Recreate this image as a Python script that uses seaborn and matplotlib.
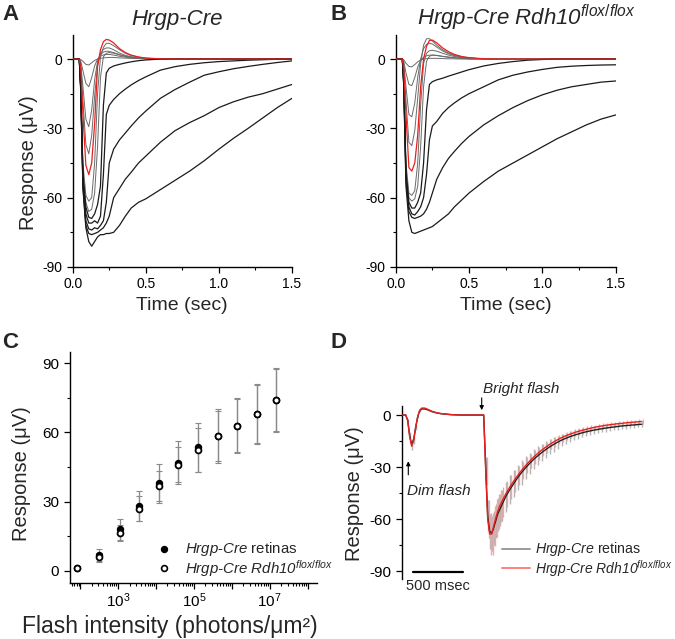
import numpy as np
import pandas as pd
import matplotlib
matplotlib.use("Agg")
import matplotlib.pyplot as plt
import seaborn as sns
from matplotlib.lines import Line2D
from matplotlib.ticker import FixedLocator, NullFormatter

# ---------------- data ----------------
# panels A/B: photoresponse traces (time in sec, response in uV)
t_trace = [0, 0.045, 0.055, 0.07, 0.09, 0.11, 0.13, 0.15, 0.17, 0.19, 0.21, 0.23, 0.25,
           0.28, 0.32, 0.36, 0.40, 0.45, 0.50, 0.60, 0.70, 0.80, 0.90, 1.00, 1.10,
           1.20, 1.30, 1.40, 1.50]

cre_dim = [
    [0, 0, -0.2, -1.0, -2.3, -2.6, -1.6, -0.6, 0, 0.3, 0.5, 0.6, 0.7, 0.7, 0.5, 0.4, 0.3, 0.2, 0.1, 0, 0, 0, 0, 0, 0, 0, 0, 0, 0],
    [0, 0, -1, -5, -10.5, -12, -8, -3, 0, 1.2, 1.8, 2.0, 2.0, 1.7, 1.2, 0.8, 0.5, 0.3, 0.1, 0, 0, 0, 0, 0, 0, 0, 0, 0, 0],
    [0, 0, -2, -12, -26, -29.3, -22, -9, -1, 2, 3, 3.4, 3.3, 2.8, 1.9, 1.2, 0.7, 0.4, 0.2, 0, 0, 0, 0, 0, 0, 0, 0, 0, 0],
    [0, 0, -3, -18, -37, -41, -33, -16, -3, 2.5, 4.2, 4.8, 4.8, 4.0, 2.6, 1.6, 1.0, 0.5, 0.3, 0, 0, 0, 0, 0, 0, 0, 0, 0, 0],
]
cre_red = [0, 0, -4, -24, -46, -50, -45, -28, -3, 4, 7.5, 8.5, 8.2, 7, 4.5, 2.8, 1.7, 0.9, 0.4, 0.1, 0, 0, 0, 0, 0, 0, 0, 0, 0]
cre_sat_grey = [
    [0, 0, -10, -45, -59, -61.5, -60, -45, -15, 1, 5, 6.8, 6.8, 5.8, 4, 2.5, 1.5, 0.8, 0.4, 0.1, 0, 0, 0, 0, 0, 0, 0, 0, 0],
    [0, 0, -11, -48, -62, -66, -65, -58, -38, -8, 1, 2.5, 2.8, 2.5, 1.8, 1.2, 0.8, 0.4, 0.2, 0, 0, 0, 0, 0, 0, 0, 0, 0, 0],
]
cre_sat_black = [
    [0, 0, -12, -50, -64, -68.5, -69, -67, -63, -55, -20, -6, -4, -3, -2.3, -1.7, -1.2, -0.7, -0.4, 0, 0, 0, 0, 0, 0, 0, 0, 0, 0],
    [0, 0, -12, -52, -67, -71, -71, -70, -71, -68, -50, -24, -20, -17.5, -15, -13, -11.2, -9.3, -7.7, -4.8, -3.3, -2.3, -1.6, -1.1, -0.8, -0.5, -0.3, -0.1, 0],
    [0, 0, -13, -54, -70, -73.5, -74, -73, -73.5, -72, -70, -62, -45, -39, -35, -32, -29, -25.5, -22.5, -17, -13.2, -10, -7, -5.5, -4.2, -3.2, -2.3, -1.5, -0.8],
    [0, 0, -13, -55, -72, -75.5, -76, -75.5, -75, -74, -73, -71, -68, -60, -56, -52, -49, -45, -42, -36, -31, -27.5, -24.5, -21, -18.5, -16.5, -15, -13, -11],
    [0, 0, -14, -56, -73, -79, -81, -79, -77, -76, -76, -75.5, -75.5, -75, -72, -68, -64.5, -62, -60.5, -56.5, -52.5, -48.5, -44, -39, -34.3, -30, -25.5, -21, -17],
]

rdh_dim = [
    [0, 0, -0.3, -1.8, -3.2, -3.4, -2.4, -1.2, -0.4, 0, 0.2, 0.3, 0.3, 0.3, 0.2, 0.1, 0.1, 0, 0, 0, 0, 0, 0, 0, 0, 0, 0, 0, 0],
    [0, 0, -1, -6, -11, -11.5, -8, -3.5, -0.5, 0.8, 1.4, 1.7, 1.7, 1.5, 1.1, 0.7, 0.5, 0.3, 0.1, 0, 0, 0, 0, 0, 0, 0, 0, 0, 0],
    [0, 0, -2, -12, -24, -25, -19, -8, 0, 4.5, 6.3, 6.8, 6.5, 5.2, 3.5, 2.3, 1.5, 0.8, 0.4, 0.1, 0, 0, 0, 0, 0, 0, 0, 0, 0],
    [0, 0, -3, -18, -36, -37.5, -31, -17, -2, 6, 8.8, 8.8, 7.8, 6, 4, 2.6, 1.7, 0.9, 0.5, 0.1, 0, 0, 0, 0, 0, 0, 0, 0, 0],
]
rdh_red = [0, 0, -4, -24, -47, -48.5, -45, -33, -12, 0, 5.5, 8, 8.2, 7, 4.8, 3.2, 2, 1.1, 0.6, 0.1, 0, 0, 0, 0, 0, 0, 0, 0, 0]
rdh_sat_grey = [
    [0, 0, -9, -45, -58, -59, -57, -45, -20, -2, 2.5, 3.6, 3.8, 3.4, 2.5, 1.7, 1.1, 0.6, 0.3, 0.1, 0, 0, 0, 0, 0, 0, 0, 0, 0],
    [0, 0, -9, -47, -60, -61.5, -60.5, -55, -38, -12, -1, 1.2, 1.7, 1.6, 1.2, 0.9, 0.6, 0.3, 0.1, 0, 0, 0, 0, 0, 0, 0, 0, 0, 0],
]
rdh_sat_black = [
    [0, 0, -10, -49, -62, -64.5, -64.5, -62, -58, -45, -22, -11, -9.8, -9, -8.3, -7.4, -6.6, -5.6, -4.6, -3, -1.9, -1.1, -0.5, -0.2, 0, 0, 0, 0, 0],
    [0, 0, -10, -51, -64, -67, -67.5, -66, -64, -60, -50, -35, -29, -27, -23.5, -21, -19, -16.8, -15, -12, -9, -7, -5.6, -4.5, -3.6, -3.1, -2.8, -2.6, -2.5],
    [0, 0, -11, -52, -66, -68.5, -69, -68.5, -68, -67, -65, -62, -58, -52, -47, -43, -40, -36.5, -33.5, -28.5, -24.5, -21, -18, -15.5, -13.5, -12, -11, -10, -9.5],
    [0, 0, -12, -55, -70, -75, -75.5, -75, -74.5, -74, -73.5, -73, -72.5, -71, -69, -67, -64, -61, -58, -53, -48.5, -45, -41.5, -38, -34.5, -31.5, -28.5, -26, -24.2],
]

# panel C: intensity-response
flash_intensity = [80, 320, 1.1e3, 3.6e3, 1.2e4, 3.9e4, 1.26e5, 4.2e5, 1.35e6, 4.5e6, 1.45e7]
cre_amp = [1.5, 7, 18, 28, 38, 47, 53.5, 58.5, 63, 68, 74]
cre_amp_sd = [0.8, 2.5, 4.5, 6.5, 8.5, 9.5, 10.5, 11.5, 12, 13, 14]
rdh_amp = [1.5, 6, 16.5, 27, 37, 46, 52.5, 58.5, 63, 68, 74]
rdh_amp_sd = [0.8, 2, 3.5, 5.5, 6.5, 7.5, 9.5, 11, 11.5, 12.5, 13.5]

# panel D: dim + bright flash, mean +/- SD (time in msec)
t_paired = [0, 40, 60, 80, 100, 120, 140, 160, 180, 200, 230, 260, 300, 350, 400, 500, 600, 700, 800, 820,
            840, 860, 880, 900, 920, 940, 960, 980, 1000, 1040, 1080, 1120, 1160, 1200, 1240, 1280,
            1320, 1360, 1400, 1440, 1480, 1520, 1560, 1600, 1640, 1680, 1720, 1760, 1800, 1840,
            1880, 1920, 1960, 2000, 2040, 2080, 2120, 2160, 2200, 2240, 2280, 2320, 2360, 2400]
cre_paired = [0, 0, -3, -12, -17, -14, -7, -1, 2.5, 3.5, 3.5, 3, 2, 1.2, 0.7, 0.2, 0, 0, 0, 0,
              -30, -58, -67, -68, -65, -61, -57, -54.5, -52, -47, -43, -39.5, -36, -33, -30.3, -27.8,
              -25.5, -23.5, -21.6, -19.9, -18.3, -16.9, -15.6, -14.4, -13.4, -12.5, -11.7, -11, -10.3, -9.7,
              -9.2, -8.7, -8.3, -7.9, -7.5, -7.2, -6.9, -6.6, -6.3, -6.1, -5.9, -5.7, -5.5, -5.3]
cre_paired_sd = [0, 0, 0.5, 2, 3, 2.5, 1.5, 0.5, 0.5, 0.8, 0.8, 0.6, 0.4, 0.3, 0.2, 0, 0, 0, 0, 0,
                 6, 9, 10, 10, 10, 10, 9.5, 9.3, 9, 8.6, 8.2, 7.8, 7.4, 7, 6.6, 6.2,
                 5.8, 5.4, 5, 4.7, 4.4, 4.1, 3.8, 3.5, 3.3, 3.1, 2.9, 2.7, 2.6, 2.5,
                 2.4, 2.3, 2.2, 2.1, 2, 2, 1.9, 1.9, 1.8, 1.8, 1.7, 1.7, 1.6, 1.6]
rdh_paired = [0, 0, -3, -12.5, -18, -14.5, -7, -1, 2.8, 4, 4, 3.3, 2.2, 1.3, 0.8, 0.2, 0, 0, 0, 0,
              -32, -60, -68.5, -68.5, -64, -59.5, -55.5, -52.5, -50, -45.5, -41.5, -38, -34.8, -31.8, -29, -26.5,
              -24.2, -22.1, -20.2, -18.5, -16.9, -15.5, -14.2, -13, -12, -11.1, -10.3, -9.5, -8.9, -8.3,
              -7.7, -7.2, -6.7, -6.3, -5.9, -5.6, -5.3, -5, -4.8, -4.5, -4.3, -4.1, -3.9, -3.7]
rdh_paired_sd = [0, 0, 0.5, 1.5, 2, 1.5, 1, 0.5, 0.5, 0.8, 0.8, 0.6, 0.4, 0.3, 0.2, 0, 0, 0, 0, 0,
                 8, 11, 12, 12, 11.5, 11, 10, 9.3, 8.6, 7.6, 6.8, 6.1, 5.5, 5, 4.6, 4.2,
                 3.9, 3.6, 3.3, 3.1, 2.9, 2.7, 2.5, 2.3, 2.2, 2.1, 2, 1.9, 1.8, 1.8,
                 1.7, 1.7, 1.6, 1.6, 1.6, 1.5, 1.5, 1.5, 1.5, 1.5, 1.5, 1.5, 1.5, 1.5]

W, H = 675, 639
RED = "#e8201e"


def fx(px):
    return px / W


def fy(py):
    return 1 - py / H


def trace_axes(ax):
    sns.despine(ax=ax)
    ax.set_xlim(0, 1.5)
    ax.set_ylim(-90, 10.4)
    ax.xaxis.set_major_locator(FixedLocator([0, 0.5, 1.0, 1.5]))
    ax.xaxis.set_minor_locator(FixedLocator([0.25, 0.75, 1.25]))
    ax.set_xticklabels(["0.0", "0.5", "1.0", "1.5"])
    ax.yaxis.set_major_locator(FixedLocator([-90, -60, -30, 0]))
    ax.yaxis.set_minor_locator(FixedLocator([-75, -45, -15]))
    ax.set_xlabel("")
    ax.set_ylabel("")


def draw_traces(ax, dim, red, grey, black):
    for tr in dim + grey:
        sns.lineplot(x=t_trace, y=tr, ax=ax, color="#6a6a6a", linewidth=0.7, errorbar=None, zorder=2)
    for tr in black:
        sns.lineplot(x=t_trace, y=tr, ax=ax, color="#1a1a1a", linewidth=0.9, errorbar=None, zorder=3)
    sns.lineplot(x=t_trace, y=red, ax=ax, color=RED, linewidth=0.9, errorbar=None, zorder=4)
    trace_axes(ax)


sns.set_theme(style="ticks")
plt.rcParams.update({
    "font.family": ["Liberation Sans", "DejaVu Sans"],
    "mathtext.fontset": "custom",
    "mathtext.rm": "Liberation Sans",
    "mathtext.it": "Liberation Sans:italic",
    "mathtext.bf": "Liberation Sans:bold",
    "axes.unicode_minus": False,
    "axes.linewidth": 1.0,
    "axes.edgecolor": "black",
    "xtick.direction": "out",
    "ytick.direction": "out",
    "xtick.major.size": 4,
    "ytick.major.size": 4,
    "xtick.minor.size": 2.2,
    "ytick.minor.size": 2.2,
    "xtick.major.width": 0.9,
    "ytick.major.width": 0.9,
    "xtick.minor.width": 0.8,
    "ytick.minor.width": 0.8,
    "xtick.labelsize": 10,
    "ytick.labelsize": 10,
    "xtick.color": "black",
    "ytick.color": "black",
})

fig = plt.figure(figsize=(6.75, 6.39), dpi=100)

# --- A ---
axA = fig.add_axes([fx(72.7), fy(267), (292 - 72.7) / W, (267 - 35) / H])
draw_traces(axA, cre_dim, cre_red, cre_sat_grey, cre_sat_black)

# --- B ---
axB = fig.add_axes([fx(395.7), fy(267), 220 / W, (267 - 35) / H])
draw_traces(axB, rdh_dim, rdh_red, rdh_sat_grey, rdh_sat_black)

# --- C ---
axC = fig.add_axes([fx(69.5), fy(583), (316.7 - 69.5) / W, (583 - 351.7) / H])
axC.errorbar(flash_intensity, cre_amp, yerr=cre_amp_sd, fmt="none", ecolor="#8a8a8a",
             elinewidth=0.9, capsize=2.5, capthick=0.8, zorder=2)
axC.errorbar(flash_intensity, rdh_amp, yerr=rdh_amp_sd, fmt="none", ecolor="#8a8a8a",
             elinewidth=0.9, capsize=2.5, capthick=0.8, zorder=2)
sns.scatterplot(x=flash_intensity, y=cre_amp, ax=axC, color="black", edgecolor="black",
                s=18, linewidth=1.1, zorder=3)
sns.scatterplot(x=flash_intensity, y=rdh_amp, ax=axC, color="white", edgecolor="black",
                s=18, linewidth=1.3, zorder=4)
axC.set_xscale("log")
axC.set_xlim(52, 1.74e8)
axC.set_ylim(-5.2, 95)
sns.despine(ax=axC)
axC.xaxis.set_major_locator(FixedLocator([1e2, 1e3, 1e4, 1e5, 1e6, 1e7, 1e8]))
axC.set_xticklabels(["", r"$10^3$", "", r"$10^5$", "", r"$10^7$", ""])
axC.xaxis.set_minor_locator(FixedLocator([m * 10 ** e for e in range(1, 9) for m in range(2, 10)]))
axC.xaxis.set_minor_formatter(NullFormatter())
axC.yaxis.set_major_locator(FixedLocator([0, 30, 60, 90]))
axC.yaxis.set_minor_locator(FixedLocator([15, 45, 75]))
axC.tick_params(axis="both", labelsize=11)
axC.tick_params(axis="x", pad=2)

# --- D ---
axD = fig.add_axes([fx(401.7), fy(579), 242 / W, (579 - 406) / H])
axD.errorbar(t_paired[20:], cre_paired[20:], yerr=cre_paired_sd[20:], fmt="none",
             ecolor="#b4b4b4", elinewidth=1.0, zorder=2)
axD.errorbar(t_paired[2:9], cre_paired[2:9], yerr=cre_paired_sd[2:9], fmt="none",
             ecolor="#b4b4b4", elinewidth=1.0, zorder=2)
axD.errorbar([t + 15 for t in t_paired[20:]], rdh_paired[20:], yerr=rdh_paired_sd[20:], fmt="none",
             ecolor="#ffa0a0", elinewidth=1.0, zorder=2)
sns.lineplot(x=t_paired, y=cre_paired, ax=axD, color="#222222", linewidth=1.0, errorbar=None, zorder=3)
sns.lineplot(x=t_paired, y=rdh_paired, ax=axD, color=RED, linewidth=1.0, errorbar=None, zorder=4)
axD.set_xlim(0, 2420)
axD.set_ylim(-94.4, 5.2)
sns.despine(ax=axD, bottom=True)
axD.set_xticks([])
axD.yaxis.set_major_locator(FixedLocator([-90, -60, -30, 0]))
axD.yaxis.set_minor_locator(FixedLocator([-75, -45, -15]))
axD.tick_params(axis="y", labelsize=11)
axD.set_xlabel("")
axD.set_ylabel("")

# D annotations
axD.annotate("", xy=(800, 1.2), xytext=(800, 11.5),
             arrowprops=dict(arrowstyle="-|>", color="black", lw=0.8, mutation_scale=6),
             annotation_clip=False)
axD.text(810, 15, "Bright flash", style="italic", fontsize=11, va="center", ha="left", clip_on=False)
axD.annotate("", xy=(66, -25), xytext=(66, -36),
             arrowprops=dict(arrowstyle="-|>", color="black", lw=0.8, mutation_scale=6),
             annotation_clip=False)
axD.text(53, -43.5, "Dim flash", style="italic", fontsize=11, va="center", ha="left")
axD.plot([113, 613], [-90.3, -90.3], color="black", lw=1.6, clip_on=False)
axD.text(363, -98.5, "500 msec", fontsize=10.5, ha="center", va="center", clip_on=False)

# D legend (manual)
fig.add_artist(Line2D([fx(501.7), fx(530)], [fy(549.3), fy(549.3)], color="#9a9a9a", lw=1.4))
fig.add_artist(Line2D([fx(501.7), fx(530)], [fy(568.3), fy(568.3)], color="#ff8080", lw=1.4))
fig.text(fx(535), fy(549.3), r"$\mathit{Hrgp}$-$\mathit{Cre}$ retinas", fontsize=10.2, va="center")
fig.text(fx(535), fy(568.3), r"Hrgp-Cre Rdh10$^{flox/flox}$", style="italic", fontsize=10, va="center")

# C legend (manual)
fig.add_artist(Line2D([fx(164.3)], [fy(549.3)], marker="o", color="black", markersize=4.2,
                      markeredgewidth=1.1, linestyle="none"))
fig.add_artist(Line2D([fx(164.3)], [fy(568.3)], marker="o", markerfacecolor="white",
                      markeredgecolor="black", markersize=4.2, markeredgewidth=1.2, linestyle="none"))
fig.text(fx(185), fy(549.3), r"$\mathit{Hrgp}$-$\mathit{Cre}$ retinas", fontsize=10.8, va="center")
fig.text(fx(185), fy(568.3), r"Hrgp-Cre Rdh10$^{flox/flox}$", style="italic", fontsize=10.8, va="center")

# titles and labels
fig.text(fx(131.7), fy(25), "Hrgp-Cre", style="italic", fontsize=16, va="baseline", ha="left")
fig.text(fx(417), fy(25), r"Hrgp-Cre Rdh10$^{flox/flox}$", style="italic", fontsize=16,
         va="baseline", ha="left")
for lab, x, y in [("A", 2, 4), ("B", 331, 4), ("C", 2, 332), ("D", 331, 332)]:
    fig.text(fx(x), fy(y), lab, fontsize=16, fontweight="bold", va="top", ha="left")

fig.text(fx(182), fy(305), "Time (sec)", fontsize=14, ha="center", va="center")
fig.text(fx(505.7), fy(305), "Time (sec)", fontsize=14, ha="center", va="center")
fig.text(fx(28), fy(163), "Response (\u03bcV)", fontsize=14.5, rotation=90, ha="center", va="center")
fig.text(fx(22), fy(474), "Response (\u03bcV)", fontsize=14.5, rotation=90, ha="center", va="center")
fig.text(fx(355), fy(494), "Response (\u03bcV)", fontsize=14.5, rotation=90, ha="center", va="center")
fig.text(fx(170), fy(638), "Flash intensity (photons/\u03bcm\u00b2)", fontsize=16.5, ha="center", va="bottom")

fig.savefig("out.png", dpi=100)
